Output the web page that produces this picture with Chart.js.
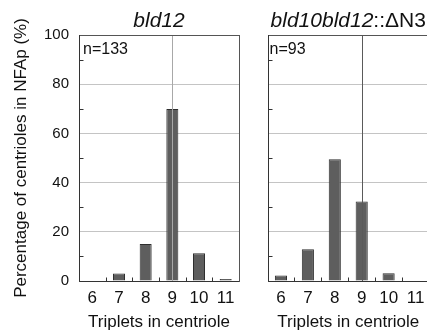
<!DOCTYPE html>
<html>
<head>
<meta charset="utf-8">
<script src="https://cdn.jsdelivr.net/npm/chart.js@4.4.1/dist/chart.umd.min.js"></script>
<style>
html, body { margin: 0; padding: 0; background: #fff; overflow: hidden; }
#wrap { position: relative; width: 427px; height: 335px; overflow: hidden; }
#c1 { position: absolute; left: 0; top: 0; }
#c2 { position: absolute; left: 245px; top: 0; }
</style>
</head>
<body>
<div id="wrap">
  <canvas id="c1" width="245" height="335"></canvas>
  <canvas id="c2" width="190" height="335"></canvas>
</div>
<script>
// data
const triplets = ['6', '7', '8', '9', '10', '11'];
const bld12 = [0, 3.0, 15.0, 69.9, 11.3, 0.8];
const bld10bld12dN3 = [2.2, 12.9, 49.5, 32.3, 3.2, 0];
const yTicks = [0, 20, 40, 60, 80, 100];
const minorTicks = [10, 30, 50, 70, 90];
const nLabels = ['n=133', 'n=93'];
const titles = [
    [{ text: 'bld12', italic: true }],
    [{ text: 'bld10bld12', italic: true }, { text: '::\u0394N3', italic: false }]
];

const FONT = '"Liberation Sans", Arial, sans-serif';

const decor = {
    id: 'decor',
    afterDatasetsDraw(chart, args, opts) {
        const { ctx, chartArea: a, scales: { x, y } } = chart;
        const line = (x1, y1, x2, y2) => {
            ctx.beginPath(); ctx.moveTo(x1, y1); ctx.lineTo(x2, y2); ctx.stroke();
        };
        ctx.save();
        ctx.lineWidth = 1;

        // vertical reference at 9 triplets
        const xv = Math.round(x.getPixelForValue(triplets.indexOf('9'))) + 0.5;
        ctx.strokeStyle = opts.refColor;
        line(xv, a.top, xv, a.bottom);

        ctx.strokeStyle = '#333';
        const L = Math.round(a.left) + 0.5, B = Math.round(a.bottom) + 0.5;
        minorTicks.forEach(v => {
            const py = Math.round(y.getPixelForValue(v)) + 0.5;
            line(L, py, L + 4, py);
        });
        for (let i = 0; i < triplets.length - 1; i++) {
            const px = Math.round((x.getPixelForValue(i) + x.getPixelForValue(i + 1)) / 2) + 0.5;
            line(px, B, px, B - 4);
        }

        // frame
        ctx.strokeStyle = '#555';
        ctx.strokeRect(L, Math.round(a.top) + 0.5, Math.round(a.right) - Math.round(a.left), Math.round(a.bottom) - Math.round(a.top));
        ctx.strokeStyle = '#333';
        line(L, a.top, L, B);
        line(L, B, a.right, B);

        // n label
        ctx.fillStyle = '#111';
        ctx.font = '16px ' + FONT;
        ctx.textBaseline = 'alphabetic';
        ctx.textAlign = 'left';
        ctx.fillText(opts.n, a.left + opts.nDx, a.top + 19);

        // panel title with mixed italic
        const parts = opts.title;
        const fontOf = p => (p.italic ? 'italic ' : '') + '21px ' + FONT;
        let total = 0;
        parts.forEach(p => { ctx.font = fontOf(p); total += ctx.measureText(p.text).width; });
        let tx = (a.left + a.right) / 2 - total / 2;
        parts.forEach(p => {
            ctx.font = fontOf(p);
            ctx.fillText(p.text, tx, 26.5);
            tx += ctx.measureText(p.text).width;
        });
        ctx.restore();
    }
};

function makeChart(id, values, idx, opt) {
    const ctx = document.getElementById(id).getContext('2d');
    return new Chart(ctx, {
        type: 'bar',
        data: {
            labels: triplets,
            datasets: [{
                data: values,
                backgroundColor: '#5e5e5e',
                borderColor: '#2e2e2e',
                borderWidth: 1,
                barPercentage: 0.45,
                categoryPercentage: 1
            }]
        },
        options: {
            responsive: false,
            animation: false,
            devicePixelRatio: 1,
            layout: { padding: { top: 35, right: opt.padRight, left: 0, bottom: 0 } },
            plugins: {
                legend: { display: false },
                tooltip: { enabled: false },
                decor: { n: nLabels[idx], nDx: opt.nDx, title: titles[idx], refColor: opt.refColor }
            },
            scales: {
                x: {
                    grid: { display: false, drawTicks: false },
                    border: { display: false },
                    ticks: { color: '#111', font: { size: 17, family: FONT }, padding: 7, maxRotation: 0 },
                    title: {
                        display: true, text: 'Triplets in centriole', color: '#111',
                        font: { size: 17, family: FONT }, padding: { top: 0, bottom: 2 }
                    },
                    afterFit: s => { s.height = 54; }
                },
                y: {
                    min: 0, max: 100,
                    afterBuildTicks: s => { s.ticks = yTicks.map(v => ({ value: v })); },
                    grid: {
                        drawTicks: false,
                        color: c => (c.tick && c.tick.value > 0 && c.tick.value < 100) ? opt.gridColor : 'rgba(0,0,0,0)'
                    },
                    border: { display: false },
                    ticks: { display: opt.showY, color: '#111', font: { size: 15, family: FONT }, padding: 10 },
                    title: {
                        display: opt.showY, text: 'Percentage of centrioles in NFAp (%)', color: '#111',
                        font: { size: 17, family: FONT }, padding: { top: 11, bottom: 0 }
                    },
                    afterFit: s => { s.width = opt.yWidth; }
                }
            }
        },
        plugins: [decor]
    });
}

makeChart('c1', bld12, 0, { padRight: 6, yWidth: 79, showY: true, nDx: 4, refColor: '#a8a8a8', gridColor: '#c4c4c4' });
makeChart('c2', bld10bld12dN3, 1, { padRight: 6, yWidth: 22.5, showY: false, nDx: 2, refColor: '#5a5a5a', gridColor: '#c4c4c4' });
</script>
</body>
</html>
